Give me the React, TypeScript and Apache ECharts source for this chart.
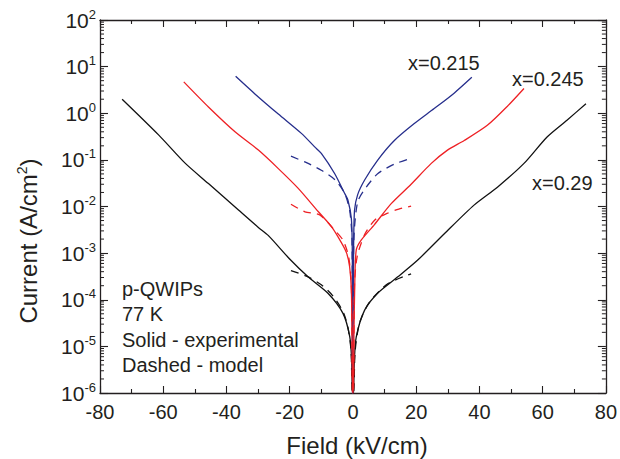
import React, { useEffect, useRef } from "react";
import * as echarts from "echarts";

// Field (kV/cm), Current (A/cm^2)
const blackSolid: [number, number][] = [
  [-73.0, 2.0], [-61.4, 0.34], [-53.0, 0.084], [-45.7, 0.031], [-36.2, 0.0084], [-30.0, 0.0036],
  [-26.8, 0.0024], [-19.7, 0.00071], [-14.2, 0.00031], [-7.9, 0.000138], [-3.15, 5.1e-5],
  [-1.0, 1.6e-5], [-0.4, 5e-6], [-0.15, 1e-6], [0.15, 1e-6], [0.45, 5e-6], [1.05, 1.6e-5],
  [3.7, 6.0e-5], [7.9, 1.4e-4], [14.2, 3.1e-4], [20.5, 7.1e-4], [28.9, 0.0026], [38.3, 0.0107],
  [45.7, 0.026], [54.1, 0.084], [61.4, 0.31], [67.7, 0.71], [73.7, 1.6],
];
const blackModel: [number, number][] = [
  [-19.6, 4.2e-4], [-14.7, 3.2e-4], [-10.0, 2.1e-4], [-6.3, 1.2e-4], [-3.15, 5.6e-5], [-1.6, 2.6e-5],
  [-0.6, 8e-6], [-0.2, 1e-6], [0.2, 1e-6], [0.7, 8e-6], [2.1, 3.2e-5], [5.3, 9e-5], [11.0, 2.2e-4],
  [18.4, 3.6e-4],
];
const redSolid: [number, number][] = [
  [-53.5, 4.7], [-45.7, 1.36], [-37.3, 0.4], [-29.9, 0.162], [-23.6, 0.065], [-17.3, 0.0245],
  [-11.0, 0.0078], [-6.8, 0.0037], [-3.7, 0.0017], [-2.0, 0.001], [-1.05, 5.1e-4], [-0.5, 1.6e-4],
  [-0.25, 1e-5], [-0.12, 1e-6], [0.12, 1e-6], [0.3, 1.5e-5], [0.6, 2.5e-4], [1.05, 0.00117],
  [2.6, 0.0019], [6.8, 0.0041], [12.1, 0.0115], [18.4, 0.03], [24.7, 0.083], [29.9, 0.162],
  [35.2, 0.26], [42.5, 0.55], [48.8, 1.4], [54.1, 3.4],
];
const redModel: [number, number][] = [
  [-19.6, 0.0112], [-15.2, 0.0077], [-10.5, 0.0066], [-6.3, 0.0034], [-3.15, 0.0019], [-1.35, 8.3e-4],
  [-0.5, 2e-4], [-0.15, 1e-6], [0.15, 1e-6], [0.5, 2.2e-4], [1.35, 8.5e-4], [3.7, 0.0025],
  [7.0, 0.0052], [11.0, 0.0072], [14.5, 0.0088], [18.4, 0.0102],
];
const blueSolid: [number, number][] = [
  [-37.1, 6.2], [-31.0, 2.6], [-23.6, 0.96], [-16.3, 0.37], [-12.1, 0.19], [-10.0, 0.138],
  [-5.8, 0.051], [-2.6, 0.019], [-1.6, 0.0138], [-0.5, 0.0055], [-0.2, 0.001], [-0.1, 1e-6],
  [0.1, 1e-6], [0.2, 0.001], [0.5, 0.0083], [1.5, 0.018], [3.7, 0.037], [7.9, 0.1], [13.1, 0.26],
  [19.4, 0.6], [25.7, 1.26], [32.0, 2.7], [37.6, 5.9],
];
const blueModel: [number, number][] = [
  [-19.6, 0.12], [-14.7, 0.087], [-10.0, 0.06], [-5.6, 0.037], [-2.6, 0.019], [-1.0, 0.008],
  [-0.3, 0.002], [-0.1, 1e-6], [0.1, 1e-6], [0.3, 0.002], [1.5, 0.0126], [4.2, 0.026],
  [7.9, 0.051], [13.1, 0.081], [18.6, 0.11],
];

const curveLabels = ["x=0.215", "x=0.245", "x=0.29"];
const noteLines = ["p-QWIPs", "77 K", "Solid - experimental", "Dashed - model"];
const decadeExponents = [-6, -5, -4, -3, -2, -1, 0, 1];
const minorFactors = [2, 3, 4, 5, 6, 7, 8, 9];

const FONT = "'Liberation Sans', Arial, sans-serif";
const TXT = "#231f20";
const AX = "#231f20";
const BLACK = "#111111";
const RED = "#ee2024";
const BLUE = "#262e8c";

export default function App() {
  const ref = useRef<HTMLDivElement>(null);
  useEffect(() => {
    if (!ref.current) return;
    const chart = echarts.init(ref.current, null, { renderer: "svg" });

    const minorTicks: number[][] = [];
    decadeExponents.forEach((e) => {
      minorFactors.forEach((f) => {
        minorTicks.push([-80, Number((f * Math.pow(10, e)).toPrecision(3))]);
      });
    });

    const line = (data: [number, number][], color: string, dashed: boolean) => ({
      type: "line",
      data,
      showSymbol: false,
      smooth: 0.25,
      clip: true,
      lineStyle: { color, width: 1.3, type: dashed ? [8, 6] : "solid" },
      z: 3,
    });

    const xAxisBase = {
      type: "value",
      min: -80,
      max: 80,
      interval: 20,
      axisLine: { show: true, onZero: false, lineStyle: { color: AX, width: 1.3 } },
      axisTick: { show: true, inside: true, length: 7, lineStyle: { color: AX, width: 1.1 } },
      minorTick: { show: true, splitNumber: 2, length: 4, lineStyle: { color: AX, width: 1.1 } },
      splitLine: { show: false },
      minorSplitLine: { show: false },
    };
    const yAxisBase = {
      type: "log",
      logBase: 10,
      min: 1e-6,
      max: 100,
      splitNumber: 8,
      axisLine: { show: true, onZero: false, lineStyle: { color: AX, width: 1.3 } },
      axisTick: { show: true, inside: true, length: 8, lineStyle: { color: AX, width: 1.1 } },
      splitLine: { show: false },
    };

    const option: any = {
      animation: false,
      grid: { left: 100, right: 11, top: 20, bottom: 66, containLabel: false },
      xAxis: [
        {
          ...xAxisBase,
          position: "bottom",
          axisLabel: { fontSize: 20, color: TXT, fontFamily: FONT, margin: 9 },
        },
        { ...xAxisBase, position: "top", axisLabel: { show: false } },
      ],
      yAxis: [
        {
          ...yAxisBase,
          position: "left",
          axisLabel: {
            margin: 4,
            formatter: (v: number) => {
              const e = Math.round(Math.log10(v));
              return "{b|10}{s|" + e + "}";
            },
            rich: {
              b: { fontSize: 21, color: TXT, fontFamily: FONT },
              s: { fontSize: 13, color: TXT, fontFamily: FONT, padding: [0, 0, 12, 0] },
            },
          },
        },
        { ...yAxisBase, position: "right", axisLabel: { show: false } },
      ],
      series: [
        {
          type: "custom",
          data: minorTicks,
          clip: false,
          silent: true,
          renderItem: (params: any, api: any) => {
            const v = api.value(1);
            const l = api.coord([-80, v]);
            const r = api.coord([80, v]);
            return {
              type: "group",
              children: [
                { type: "line", shape: { x1: l[0], y1: l[1], x2: l[0] + 4, y2: l[1] }, style: { stroke: AX, lineWidth: 1 } },
                { type: "line", shape: { x1: r[0], y1: r[1], x2: r[0] - 4, y2: r[1] }, style: { stroke: AX, lineWidth: 1 } },
              ],
            };
          },
          z: 2,
        },
        line(blackSolid, BLACK, false),
        line(blackModel, BLACK, true),
        line(blueSolid, BLUE, false),
        line(blueModel, BLUE, true),
        line(redSolid, RED, false),
        line(redModel, RED, true),
      ],
      graphic: [
        {
          type: "text",
          x: 28,
          y: 241,
          rotation: Math.PI / 2,
          style: {
            text: "{n|Current (A/cm}{s|2}{n|)}",
            align: "center",
            verticalAlign: "middle",
            rich: {
              n: { fontSize: 24, fill: TXT, fontFamily: FONT },
              s: { fontSize: 14, fill: TXT, fontFamily: FONT, padding: [0, 0, 12, 0] },
            },
          },
        },
        {
          type: "text",
          x: 357,
          y: 445,
          style: { text: "Field (kV/cm)", fontSize: 24, fill: TXT, fontFamily: FONT, align: "center", verticalAlign: "middle" },
        },
        { type: "text", x: 408, y: 63, style: { text: curveLabels[0], fontSize: 20, fill: TXT, fontFamily: FONT, verticalAlign: "middle" } },
        { type: "text", x: 512, y: 79, style: { text: curveLabels[1], fontSize: 20, fill: TXT, fontFamily: FONT, verticalAlign: "middle" } },
        { type: "text", x: 532, y: 183, style: { text: curveLabels[2], fontSize: 20, fill: TXT, fontFamily: FONT, verticalAlign: "middle" } },
        ...noteLines.map((t, i) => ({
          type: "text",
          x: 122,
          y: 289 + i * 25.3,
          style: { text: t, fontSize: 20, fill: TXT, fontFamily: FONT, verticalAlign: "middle" },
        })),
      ],
    };
    chart.setOption(option);
    return () => chart.dispose();
  }, []);
  return <div ref={ref} style={{ position: "fixed", left: 0, top: 0, width: 620, height: 459, background: "#fff" }} />;
}
